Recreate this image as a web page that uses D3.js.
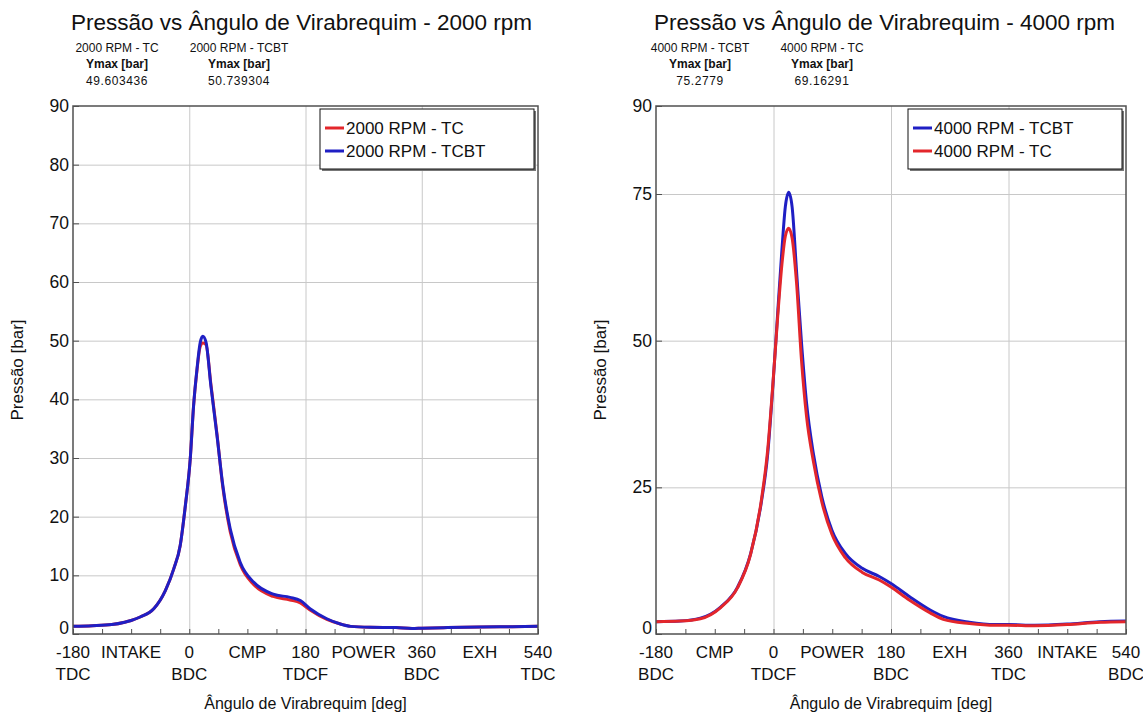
<!DOCTYPE html>
<html>
<head>
<meta charset="utf-8">
<script src="https://cdn.jsdelivr.net/npm/d3@7"></script>
<style>
  body { margin: 0; background: #fff; }
  text { font-family: "Liberation Sans", Arial, sans-serif; fill: #111; }
</style>
</head>
<body>
<div id="chart"></div>
<script>
// crank angle samples (deg) and cylinder pressure (bar)
var angles2000 = [-180, -150, -120, -100, -90, -76, -55, -37, -24, -14, -6, 1.5, 6.7, 12, 17, 21, 26, 33.5, 43, 52, 63.5, 79, 100, 130, 156, 172, 187, 213, 234, 250, 280, 320, 345, 360, 400, 450, 500, 540];
var tc2000 = [1.3, 1.4, 1.6, 2.0, 2.3, 2.9, 4.3, 7.4, 11.1, 15.1, 21.9, 29.8, 38.9, 45.0, 49.0, 49.6, 49.3, 42.6, 34.0, 25.0, 17.4, 11.8, 8.4, 6.4, 5.8, 5.3, 4.1, 2.5, 1.7, 1.3, 1.15, 1.1, 0.95, 1.0, 1.1, 1.2, 1.25, 1.3];
var tcbt2000 = [1.3, 1.4, 1.6, 2.0, 2.3, 2.9, 4.3, 7.4, 11.1, 15.1, 21.9, 29.8, 38.9, 45.2, 49.7, 50.74, 49.7, 42.3, 33.8, 25.3, 17.9, 12.2, 8.8, 6.8, 6.25, 5.7, 4.3, 2.6, 1.7, 1.3, 1.15, 1.1, 0.95, 1.0, 1.1, 1.2, 1.25, 1.3];

var angles4000 = [-180, -143, -112, -81, -55, -35, -19, -8.8, -1, 6.7, 12.9, 18.1, 23.3, 28.5, 35.2, 43, 50.7, 61, 74, 89.5, 110, 136, 162, 180, 208, 240, 260, 300, 340, 360, 400, 450, 500, 540];
var tcbt4000 = [2.1, 2.2, 2.7, 4.6, 8.0, 13.7, 22.2, 30.8, 42.2, 55.2, 65.5, 72.8, 75.28, 72.8, 62, 49.5, 39.3, 30.8, 23.4, 17.7, 13.75, 11.2, 9.8, 8.6, 6.4, 4.1, 3.0, 2.0, 1.6, 1.6, 1.5, 1.7, 2.1, 2.2];
var tc4000 = [2.1, 2.2, 2.6, 4.5, 7.9, 13.6, 22.5, 31.5, 42.5, 54.5, 63.0, 67.8, 69.16, 67.5, 60, 46.5, 37.0, 29.5, 22.5, 17.0, 13.0, 10.5, 9.2, 8.0, 5.8, 3.6, 2.5, 1.8, 1.5, 1.5, 1.4, 1.6, 2.0, 2.1];

// tick labels
var xMajor = [-180, 0, 180, 360, 540];
var xMinor = [-180, -135, -90, -45, 0, 45, 90, 135, 180, 225, 270, 315, 360, 405, 450, 495, 540];
var phaseAngles = [-90, 90, 270, 450];
var phases2000 = ["INTAKE", "CMP", "POWER", "EXH"];
var dead2000 = ["TDC", "BDC", "TDCF", "BDC", "TDC"];
var phases4000 = ["CMP", "POWER", "EXH", "INTAKE"];
var dead4000 = ["BDC", "TDCF", "BDC", "TDC", "BDC"];
var yTicks2000 = [0, 10, 20, 30, 40, 50, 60, 70, 80, 90];
var yTicks4000 = [0, 25, 50, 75, 90];

var RED = "#e3262b", BLUE = "#1f1fc4";

var svg = d3.select("#chart").append("svg")
  .attr("width", 1143)
  .attr("height", 715);

drawPanel({
  left: 73, right: 538,
  title: "Pressão vs Ângulo de Virabrequim - 2000 rpm",
  angles: angles2000,
  series: [
    { name: "2000 RPM - TC", values: tc2000, color: RED, ymax: "49.603436" },
    { name: "2000 RPM - TCBT", values: tcbt2000, color: BLUE, ymax: "50.739304" }
  ],
  yTicks: yTicks2000,
  phases: phases2000,
  dead: dead2000
});

drawPanel({
  left: 656, right: 1126,
  title: "Pressão vs Ângulo de Virabrequim - 4000 rpm",
  angles: angles4000,
  series: [
    { name: "4000 RPM - TCBT", values: tcbt4000, color: BLUE, ymax: "75.2779" },
    { name: "4000 RPM - TC", values: tc4000, color: RED, ymax: "69.16291" }
  ],
  yTicks: yTicks4000,
  phases: phases4000,
  dead: dead4000
});

function drawPanel(p) {
  var top = 106, bottom = 634;
  var x = d3.scaleLinear().domain([-180, 540]).range([p.left, p.right]);
  var y = d3.scaleLinear().domain([0, 90]).range([bottom, top]);
  var g = svg.append("g");

  // title + stats header
  g.append("text")
    .attr("x", p.left - 2)
    .attr("y", 30)
    .attr("font-size", 22.5)
    .text(p.title);

  p.series.forEach(function(s, i) {
    var cx = p.left + 44 + i * 122;
    g.append("text").attr("x", cx).attr("y", 52).attr("text-anchor", "middle")
      .attr("font-size", 12).attr("fill", "#333").text(s.name);
    g.append("text").attr("x", cx).attr("y", 68).attr("text-anchor", "middle")
      .attr("font-size", 12).attr("font-weight", "bold").text("Ymax [bar]");
    g.append("text").attr("x", cx).attr("y", 85).attr("text-anchor", "middle")
      .attr("font-size", 12).attr("letter-spacing", 0.6).attr("fill", "#333").text(s.ymax);
  });

  // grid
  g.append("g")
    .attr("transform", "translate(0," + bottom + ")")
    .call(d3.axisBottom(x).tickValues(xMajor.slice(1, -1)).tickSize(-(bottom - top)).tickFormat(""))
    .call(function(a) { a.select(".domain").remove(); })
    .selectAll("line").attr("stroke", "#c8c8c8");
  g.append("g")
    .attr("transform", "translate(" + p.left + ",0)")
    .call(d3.axisLeft(y).tickValues(p.yTicks.slice(1, -1)).tickSize(-(p.right - p.left)).tickFormat(""))
    .call(function(a) { a.select(".domain").remove(); })
    .selectAll("line").attr("stroke", "#c8c8c8");

  // inward ticks
  g.append("g")
    .attr("transform", "translate(0," + bottom + ")")
    .call(d3.axisBottom(x).tickValues(xMinor).tickSize(-5).tickFormat(""))
    .call(function(a) { a.select(".domain").remove(); })
    .selectAll("line").attr("stroke", "#505050");
  var yAxis = g.append("g")
    .attr("transform", "translate(" + p.left + ",0)")
    .call(d3.axisLeft(y).tickValues(p.yTicks).tickSize(-6).tickPadding(4));
  yAxis.select(".domain").remove();
  yAxis.selectAll("line").attr("stroke", "#505050");
  yAxis.selectAll("text")
    .attr("font-family", "Liberation Sans, Arial, sans-serif")
    .attr("font-size", 17.5)
    .attr("fill", "#111");
  // the zero label sits just above the x tick labels
  yAxis.selectAll(".tick").filter(function(d) { return d === 0; })
    .select("text").attr("dy", "-0.05em");

  // x labels, two rows
  var rows = g.append("g").attr("font-size", 17);
  xMajor.forEach(function(v) {
    rows.append("text").attr("x", x(v)).attr("y", 658).attr("text-anchor", "middle").text(v);
  });
  phaseAngles.forEach(function(v, i) {
    rows.append("text").attr("x", x(v)).attr("y", 658).attr("text-anchor", "middle").text(p.phases[i]);
  });
  xMajor.forEach(function(v, i) {
    rows.append("text").attr("x", x(v)).attr("y", 680).attr("text-anchor", "middle").text(p.dead[i]);
  });

  g.append("text")
    .attr("x", (p.left + p.right) / 2)
    .attr("y", 709)
    .attr("text-anchor", "middle")
    .attr("font-size", 16)
    .text("Ângulo de Virabrequim [deg]");

  g.append("text")
    .attr("transform", "translate(" + (p.left - 50) + "," + (top + bottom) / 2 + ") rotate(-90)")
    .attr("text-anchor", "middle")
    .attr("font-size", 17)
    .text("Pressão [bar]");

  // curves
  var line = d3.line()
    .x(function(d) { return x(d[0]); })
    .y(function(d) { return y(d[1]); })
    .curve(d3.curveMonotoneX);

  p.series.forEach(function(s) {
    var pts = p.angles.map(function(a, i) { return [a, s.values[i]]; });
    g.append("path")
      .attr("d", line(pts))
      .attr("fill", "none")
      .attr("stroke", s.color)
      .attr("stroke-width", 3)
      .attr("stroke-linejoin", "round");
  });

  // frame
  g.append("rect")
    .attr("x", p.left).attr("y", top)
    .attr("width", p.right - p.left).attr("height", bottom - top)
    .attr("fill", "none").attr("stroke", "#505050").attr("stroke-width", 1.5);

  // legend
  var lw = 214, lh = 60, lx = p.right - lw - 4, ly = top + 3;
  var leg = g.append("g");
  leg.append("rect").attr("x", lx + 2).attr("y", ly + 2).attr("width", lw).attr("height", lh).attr("fill", "#777");
  leg.append("rect").attr("x", lx).attr("y", ly).attr("width", lw).attr("height", lh)
    .attr("fill", "#fff").attr("stroke", "#111").attr("stroke-width", 1);
  p.series.forEach(function(s, i) {
    var yy = ly + 19 + i * 23;
    leg.append("line").attr("x1", lx + 5).attr("x2", lx + 24).attr("y1", yy).attr("y2", yy)
      .attr("stroke", s.color).attr("stroke-width", 3);
    leg.append("text").attr("x", lx + 26).attr("y", yy + 6).attr("font-size", 17).text(s.name);
  });
}
</script>
</body>
</html>
